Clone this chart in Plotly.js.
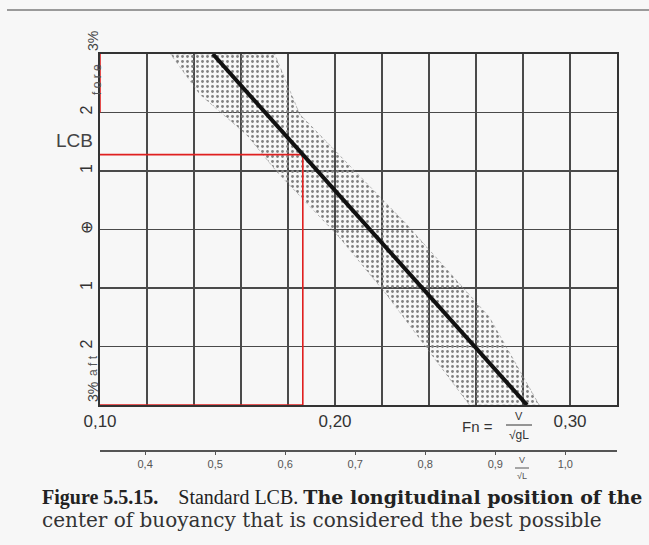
<!DOCTYPE html>
<html>
<head>
<meta charset="utf-8">
<script src="https://cdn.plot.ly/plotly-3.0.1.min.js"></script>
<style>
  html, body { margin: 0; padding: 0; background: #f7f7f7; }
  #chart { width: 649px; height: 545px; }
</style>
</head>
<body>
<div id="chart"></div>
<script>
// ---- data ----
const fnTicks = [0.10, 0.20, 0.30];                 // labelled Froude numbers
const fnRange = [0.10, 0.32];
const fnGridStep = 0.02;
const lcbRange = [-3, 3];                            // % of L, + = fore
const lcbTicks = [-2, -1, 0, 1, 2];
const lcbTickText = ['2', '1', '\u2295', '1', '2'];
const vslTicks = [0.4, 0.5, 0.6, 0.7, 0.8, 0.9, 1.0]; // V/sqrt(L) (kn, ft)
const fnPerVsl = 0.298;

const lineFn = [0.148, 0.2817];                     // standard LCB line
const lineLcb = [3, -3];

const bandFn  = [0.130, 0.1743, 0.185, 0.2304, 0.2657, 0.2869, 0.2572, 0.2219, 0.202, 0.1752, 0.1624, 0.1425];
const bandLcb = [3.0, 3.0, 1.97, 0.09, -1.50, -3.0, -3.0, -1.11, -0.14, 0.99, 1.62, 2.31];

const readFn = 0.1863;                              // red read-off example
const readLcb = 1.28;

// ---- layout helpers (pixel placement of decorations) ----
const W = 649, H = 545;
const M = { l: 100, r: 32, t: 54, b: 95 };
const pw = W - M.l - M.r, ph = H - M.t - M.b;
const px = v => (v - M.l) / pw;
const py = v => (H - M.b - v) / ph;
const plotBottomPx = 405;
const yDomain0 = (H - M.b - plotBottomPx) / ph;

const ink = '#333';
const grid = '#4a4a4a';

const traces = [
  {
    x: bandFn.concat([bandFn[0]]), y: bandLcb.concat([bandLcb[0]]),
    type: 'scatter', mode: 'lines', fill: 'toself',
    fillcolor: 'rgba(0,0,0,0)',
    fillpattern: { shape: '.', fgcolor: '#808080', bgcolor: 'rgba(0,0,0,0)', size: 5, solidity: 0.24 },
    line: { color: 'rgba(130,130,130,0.5)', width: 1, dash: 'dot' },
    hoverinfo: 'skip', showlegend: false
  },
  {
    x: [fnRange[0], fnRange[0], null, fnRange[0], readFn, readFn, null, fnRange[0], readFn],
    y: [lcbRange[1], 2, null, readLcb, readLcb, lcbRange[0], null, lcbRange[0], lcbRange[0]],
    type: 'scatter', mode: 'lines', cliponaxis: false,
    line: { color: '#e02020', width: 1.6 },
    hoverinfo: 'skip', showlegend: false
  },
  {
    x: lineFn, y: lineLcb, type: 'scatter', mode: 'lines',
    line: { color: '#111', width: 4 },
    hoverinfo: 'skip', showlegend: false
  },
  {
    x: vslTicks, y: vslTicks.map(() => null), xaxis: 'x2', yaxis: 'y',
    type: 'scatter', mode: 'markers', hoverinfo: 'skip', showlegend: false
  }
];

const serif = 'Liberation Serif, serif';
const wideSerif = 'DejaVu Serif, serif';

const anns = [
  { text: 'LCB', x: px(74), y: py(140), font: { size: 19, color: '#444' } },
  { text: '3%', x: px(93), y: py(41), textangle: -90, font: { size: 14, color: '#444' } },
  { text: 'f o r e', x: px(97), y: py(80), textangle: -90, font: { size: 12, color: '#555' } },
  { text: 'a f t', x: px(93), y: py(366), textangle: -90, font: { size: 12, color: '#555' } },
  { text: '3%', x: px(93), y: py(392), textangle: -90, font: { size: 14, color: '#444' } },
  { text: 'Fn =', x: px(477), y: py(426), font: { size: 15, color: ink } },
  { text: 'V', x: px(519), y: py(416), font: { size: 11, color: ink } },
  { text: '\u221AgL', x: px(519), y: py(435), font: { size: 12, color: ink } },
  { text: 'V', x: px(522), y: py(460), font: { size: 9, color: '#555' } },
  { text: '\u221AL', x: px(522), y: py(476), font: { size: 9, color: '#555' } },
  { text: '<b>Figure 5.5.15.</b>\u00a0\u00a0\u00a0 Standard LCB. <span style="font-family:DejaVu Serif;font-size:19px"><b>The longitudinal position of the</b></span>',
    x: px(40), y: py(498), xanchor: 'left', font: { family: serif, size: 20, color: '#222' } },
  { text: 'center of buoyancy that is considered the best possible',
    x: px(40), y: py(520), xanchor: 'left', font: { family: wideSerif, size: 20, color: '#333' } }
].map(a => Object.assign({ xref: 'paper', yref: 'paper', showarrow: false, xanchor: 'center', yanchor: 'middle' }, a));

const layout = {
  width: W, height: H,
  margin: M,
  paper_bgcolor: '#f7f7f7',
  plot_bgcolor: '#f7f7f7',
  separators: ', ',
  font: { family: 'Liberation Sans, Arial, sans-serif', color: ink },
  showlegend: false,
  xaxis: {
    range: fnRange, tickvals: fnTicks, tickformat: '.2f',
    showgrid: true, gridcolor: grid, gridwidth: 1.5,
    minor: { tick0: fnRange[0], dtick: fnGridStep, showgrid: true, gridcolor: grid, gridwidth: 1.5 },
    showline: true, mirror: true, linecolor: ink, linewidth: 2,
    zeroline: false, ticks: '', tickfont: { size: 17, color: ink },
    layer: 'below traces', automargin: false, fixedrange: true
  },
  xaxis2: {
    overlaying: 'x', anchor: 'free', position: 0, side: 'bottom',
    range: [fnRange[0] / fnPerVsl, fnRange[1] / fnPerVsl],
    tickvals: vslTicks, tickformat: '.1f',
    showgrid: false, zeroline: false,
    showline: true, linecolor: '#555', linewidth: 1.5,
    ticks: 'outside', ticklen: 3, tickcolor: '#555',
    tickfont: { size: 11, color: '#555' }, automargin: false, fixedrange: true
  },
  yaxis: {
    domain: [yDomain0, 1],
    range: lcbRange, tickvals: lcbTicks, ticktext: lcbTickText, tickangle: -90,
    showgrid: true, gridcolor: grid, gridwidth: 1.5,
    showline: true, mirror: true, linecolor: ink, linewidth: 2,
    zeroline: false, ticks: '', tickfont: { size: 16, color: ink },
    layer: 'below traces', automargin: false, fixedrange: true
  },
  shapes: [
    { type: 'line', xref: 'paper', yref: 'paper', x0: px(7), x1: px(649), y0: py(10), y1: py(10),
      line: { color: '#9a9a9a', width: 2 } },
    { type: 'line', xref: 'paper', yref: 'paper', x0: px(506), x1: px(532), y0: py(425), y1: py(425),
      line: { color: ink, width: 1 } },
    { type: 'line', xref: 'paper', yref: 'paper', x0: px(515), x1: px(529), y0: py(468), y1: py(468),
      line: { color: '#555', width: 1 } }
  ],
  annotations: anns
};

Plotly.newPlot('chart', traces, layout, { staticPlot: true, displayModeBar: false });
</script>
</body>
</html>
